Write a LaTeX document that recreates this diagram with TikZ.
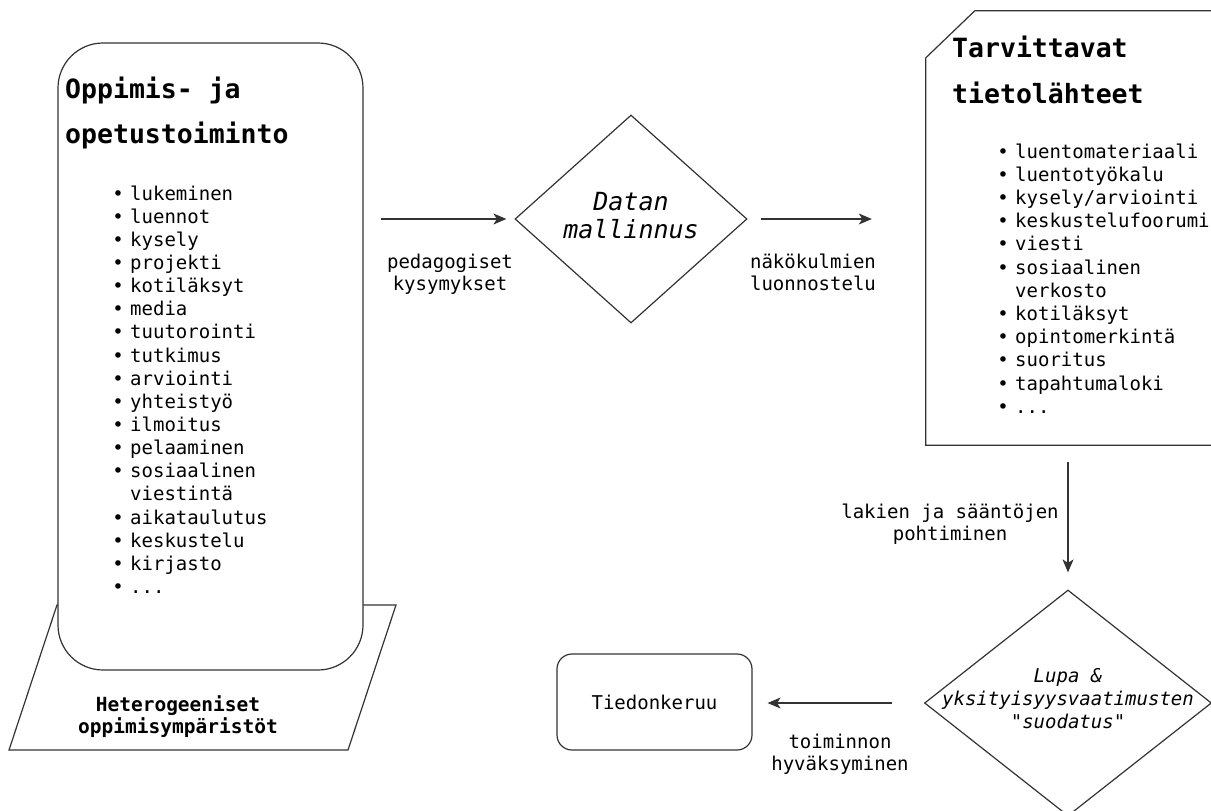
\documentclass[tikz,border=0pt]{standalone}
\usepackage{fontspec}
\setmonofont{DejaVu Sans Mono}[ItalicFont={DejaVu Sans Mono Oblique},BoldFont={DejaVu Sans Mono Bold},BoldItalicFont={DejaVu Sans Mono Bold Oblique}]
\usetikzlibrary{shapes.geometric,arrows.meta}
\definecolor{lc}{HTML}{333333}
\newcommand{\bul}{\llap{•\hspace{6.3pt}}}
\newcommand{\tdots}{...}
\begin{document}
\begin{tikzpicture}[x=1pt,y=-1pt,
  shp/.style={draw=lc, line width=1.2pt, fill=white, inner sep=0pt},
  txt/.style={font=\ttfamily\fontsize{19}{23}\selectfont, inner sep=0pt, text=black, anchor=base},
  lst/.style={txt, anchor=base west},
  ttl/.style={font=\ttfamily\bfseries\fontsize{26.5}{30}\selectfont, inner sep=0pt, text=black, anchor=base west},
  btx/.style={font=\ttfamily\bfseries\fontsize{19.5}{22}\selectfont, inner sep=0pt, text=black, anchor=base},
  itx/.style={font=\ttfamily\itshape\fontsize{25}{29}\selectfont, inner sep=0pt, text=black, anchor=base},
  its/.style={font=\ttfamily\itshape\fontsize{19}{23}\selectfont, inner sep=0pt, text=black, anchor=base},
  arr/.style={draw=lc, line width=1.2pt, -{Stealth[length=13pt,width=11pt,inset=3.5pt]}}]
\useasboundingbox (0,0) rectangle (1211,811);

% environment parallelogram
\draw[shp] (9,750) -- (57,605) -- (396,605) -- (348,750) -- cycle;
\node[btx] (env1) at (178,711) {Heterogeeniset};
\node[btx] (env2) at (178,733) {oppimisympäristöt};

% activities box
\node[shp, rounded corners=45pt, minimum width=305pt, minimum height=627pt] (act) at (210.5,356.5) {};
\node[ttl] (actt1) at (65,98) {Oppimis- ja};
\node[ttl] (actt2) at (65,143) {opetustoiminto};
\foreach \t [count=\i from 0] in {{\bul lukeminen},{\bul luennot},{\bul kysely},{\bul projekti},{\bul kotiläksyt},{\bul media},{\bul tuutorointi},{\bul tutkimus},{\bul arviointi},{\bul yhteistyö},{\bul ilmoitus},{\bul pelaaminen},{\bul sosiaalinen},{viestintä},{\bul aikataulutus},{\bul keskustelu},{\bul kirjasto},{\bul\tdots}}
  \node[lst] (la\i) at ({130},{200+23.15*\i}) {\t};

% data modelling diamond
\node[shp, diamond, minimum width=232pt, minimum height=208pt] (d1) at (631,219) {};
\node[itx] (d1a) at (631,210) {Datan};
\node[itx] (d1b) at (631,238) {mallinnus};

% sources box (snipped top-left corner)
\node[inner sep=0pt, minimum width=314pt, minimum height=434pt] (src) at (1083,228) {};
\draw[shp] ([yshift=-47pt]src.north west) -- ([xshift=49pt]src.north west) -- (src.north east) -- (src.south east) -- (src.south west) -- cycle;
\node[ttl] (srct1) at (952,57) {Tarvittavat};
\node[ttl] (srct2) at (952,103) {tietolähteet};
\foreach \t [count=\i from 0] in {{\bul luentomateriaali},{\bul luentotyökalu},{\bul kysely/arviointi},{\bul keskustelufoorumi},{\bul viesti},{\bul sosiaalinen},{verkosto},{\bul kotiläksyt},{\bul opintomerkintä},{\bul suoritus},{\bul tapahtumaloki},{\bul\tdots}}
  \node[lst] (lb\i) at ({1015},{158+23.2*\i}) {\t};

% permission diamond
\node[shp, diamond, minimum width=287pt, minimum height=226pt] (d2) at (1068,703) {};
\node[its] (d2a) at (1068,682) {Lupa \&};
\node[its] (d2b) at (1068,705) {yksityisyysvaatimusten};
\node[its] (d2c) at (1068,728) {"suodatus"};

% data collection
\node[shp, rounded corners=15pt, minimum width=195pt, minimum height=96pt, font=\ttfamily\fontsize{19}{23}\selectfont] (tk) at (654.5,702) {Tiedonkeruu};

% connectors
\draw[arr, shorten <=17pt, shorten >=8pt] (act.east |- d1.west) -- (d1.west);
\draw[arr, shorten <=13pt, shorten >=54pt] (d1.east) -- (d1.east -| src.west);
\draw[arr, shorten <=17pt, shorten >=17pt] (src.south -| d2.north) -- (d2.north);
\draw[arr, shorten <=32pt, shorten >=15pt] (d2.west) -- (d2.west -| tk.east);

% connector labels
\node[txt] (p1) at (450,268) {pedagogiset};
\node[txt] (p2) at (450,290) {kysymykset};
\node[txt] (n1) at (813,268) {näkökulmien};
\node[txt] (n2) at (813,290) {luonnostelu};
\node[txt] (l1) at (950,518) {lakien ja sääntöjen};
\node[txt] (l2) at (950,540) {pohtiminen};
\node[txt] (t1) at (840,748) {toiminnon};
\node[txt] (t2) at (840,770) {hyväksyminen};
\end{tikzpicture}
\end{document}
